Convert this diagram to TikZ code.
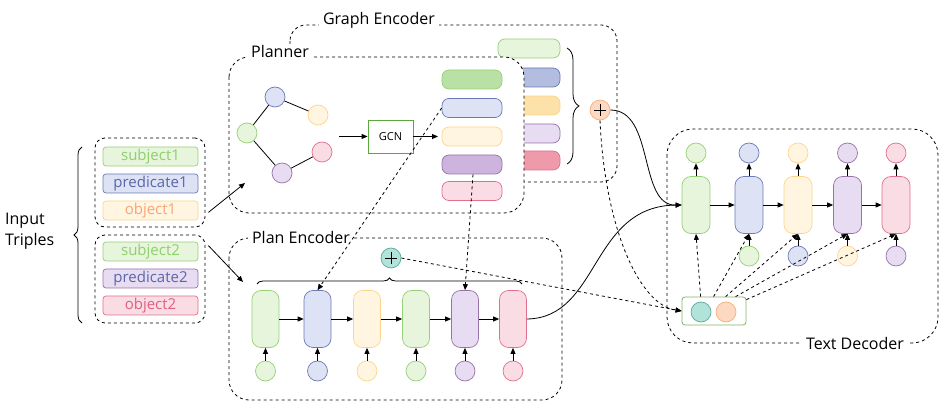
\documentclass[tikz,border=0pt]{standalone}
\usepackage{fontspec}
\setmainfont{Open Sans}
\usetikzlibrary{arrows.meta,decorations.pathreplacing,calc}
\definecolor{gF}{HTML}{E6F5DC}\definecolor{gD}{HTML}{97D077}\definecolor{gM}{HTML}{B9E0A5}
\definecolor{bF}{HTML}{DEE2F5}\definecolor{bD}{HTML}{6C7AB8}\definecolor{bM}{HTML}{B3BDE0}
\definecolor{yF}{HTML}{FFF5E0}\definecolor{yD}{HTML}{FDD58A}\definecolor{yM}{HTML}{FCE1A9}
\definecolor{pF}{HTML}{E8DCF2}\definecolor{pD}{HTML}{9673A6}\definecolor{pM}{HTML}{CDB4DE}
\definecolor{rF}{HTML}{FADDE4}\definecolor{rD}{HTML}{E0708D}\definecolor{rM}{HTML}{EE9AAB}
\definecolor{tF}{HTML}{B0E3DA}\definecolor{tD}{HTML}{5FA89B}
\definecolor{oF}{HTML}{FCD9C0}\definecolor{oD}{HTML}{F5AD7F}
\definecolor{gcnD}{HTML}{5AA83A}\definecolor{sbD}{HTML}{82B366}
\definecolor{gT}{HTML}{8FCF6E}\definecolor{bT}{HTML}{5A67A8}\definecolor{yT}{HTML}{F5A77A}\definecolor{rT}{HTML}{E0607F}
\begin{document}
\begin{tikzpicture}[x=1pt,y=-1pt,
  every node/.style={inner sep=0pt},
  arr/.style={-{Triangle[length=6pt,width=5pt]}, line width=0.8pt},
  dsh/.style={dash pattern=on 3pt off 3pt, line width=0.8pt},
  grp/.style={draw, dsh, rounded corners=10pt},
  inbox/.style={draw, line width=0.7pt, rounded corners=3pt, minimum width=95pt, minimum height=19pt, font=\fontsize{15}{17}\selectfont},
  bar/.style={draw, line width=0.7pt, rounded corners=7pt, minimum width=60pt, minimum height=19pt},
  cell/.style={draw, line width=0.7pt, rounded corners=9pt, minimum width=27pt, minimum height=57pt},
  dot/.style={draw, line width=0.7pt, circle, minimum size=20pt},
  ttl/.style={fill=white, inner xsep=4pt, inner ysep=2pt, font=\fontsize{16}{18}\selectfont},
  plus/.style={dot, path picture={\draw[black, line width=0.9pt] ($(path picture bounding box.center)+(-6,0)$) -- ++(12,0) ($(path picture bounding box.center)+(0,-6)$) -- ++(0,12);}},
  br/.style={decorate, decoration={brace, amplitude=#1}, line width=0.8pt}
]
\useasboundingbox (0,0) rectangle (947,419);

% ---------- input triples ----------
\node[font=\fontsize{16}{21}\selectfont, align=left, anchor=west] (it) at (5,231) {Input\\Triples};
\draw[br=8pt] (82,323) -- (82,147);
\node[grp, minimum width=110pt, minimum height=89pt] (g1) at (150,182.5) {};
\node[grp, minimum width=110pt, minimum height=88pt] (g2) at (150,279) {};
\node[inbox, draw=gD, fill=gF, text=gT] (s1) at (150.5,156.5) {subject1};
\node[inbox, draw=bD, fill=bF, text=bT] (p1) at (150.5,183.5) {predicate1};
\node[inbox, draw=yD, fill=yF, text=yT] (o1) at (150.5,210.5) {object1};
\node[inbox, draw=gD, fill=gF, text=gT] (s2) at (150.5,251.5) {subject2};
\node[inbox, draw=pD, fill=pF, text=bT] (p2) at (150.5,278.5) {predicate2};
\node[inbox, draw=rD, fill=rF, text=rT] (o2) at (150.5,305.5) {object2};

% ---------- graph encoder ----------
\draw[dsh, rounded corners=16pt] (290,25) rectangle (617,182);
\node[ttl] (get) at (379,20) {Graph Encoder};
\node[bar, draw=gD, fill=gF, minimum width=62pt] (e1) at (529,48.5) {};
\node[bar, draw=bD, fill=bM, minimum width=62pt] (e2) at (529,77.5) {};
\node[bar, draw=yD, fill=yM, minimum width=62pt] (e3) at (529,105.5) {};
\node[bar, draw=pD, fill=pF, minimum width=62pt] (e4) at (529,133.5) {};
\node[bar, draw=rD, fill=rM, minimum width=62pt] (e5) at (529,160.5) {};
\draw[br=12pt] (567,48) -- (567,164);
\node[plus, draw=oD, fill=oF] (op) at (600,110) {};

% ---------- planner ----------
\draw[dsh, fill=white, rounded corners=20pt] (229,57) rectangle (524,213);
\node[ttl] (plt) at (280,52) {Planner};
\node[dot, draw=gD, fill=gF] (n1) at (247,133) {};
\node[dot, draw=bD, fill=bF] (n2) at (275,97) {};
\node[dot, draw=yD, fill=yF] (n3) at (318,115) {};
\node[dot, draw=rD, fill=rF] (n4) at (322,152) {};
\node[dot, draw=pD, fill=pF] (n5) at (282,173) {};
\draw[line width=0.8pt] (n1) -- (n2) (n2) -- (n3) (n1) -- (n5) (n5) -- (n4);
\node[draw=gcnD, line width=0.8pt, minimum width=45pt, minimum height=33pt, font=\fontsize{11}{13}\selectfont] (gcn) at (390.5,136.5) {GCN};
\coordinate (gin) at (339,136.5);
\coordinate (gout) at (438,136.5);
\draw[arr] (gin) -- (gcn);
\draw[arr] (gcn) -- (gout);
\node[bar, draw=gD, fill=gM] (q1) at (472,79.5) {};
\node[bar, draw=bD, fill=bF] (q2) at (472,108) {};
\node[bar, draw=yD, fill=yF] (q3) at (472,136.5) {};
\node[bar, draw=pD, fill=pM] (q4) at (472,164.5) {};
\node[bar, draw=rD, fill=rF] (q5) at (472,191) {};

% ---------- plan encoder ----------
\draw[dsh, rounded corners=20pt] (229,238) rectangle (562,400);
\node[ttl] (pet) at (301,238) {Plan Encoder};
\node[plus, draw=tD, fill=tF] (tp) at (391,258) {};
\draw[br=6pt] (257,284) -- (522,284);
\foreach \i/\x/\f/\d in {1/265.5/gF/gD,2/317.5/bF/bD,3/367/yF/yD,4/416/gF/gD,5/465/pF/pD,6/513/rF/rD}{
  \node[cell, draw=\d, fill=\f] (c\i) at (\x,319) {};
  \node[dot, draw=\d, fill=\f] (ci\i) at (\x,371) {};
  \draw[arr] (ci\i) -- (c\i);
}
\foreach \i/\j in {1/2,2/3,3/4,4/5,5/6}{\draw[arr] (c\i) -- (c\j);}

% ---------- text decoder ----------
\draw[dsh, rounded corners=26pt] (667,129) rectangle (938,343);
\node[ttl] (tdt) at (855,343) {Text Decoder};
\foreach \i/\x/\f/\d in {1/696/gF/gD,2/749/bF/bD,3/798/yF/yD,4/847.5/pF/pD,5/896/rF/rD}{
  \node[cell, draw=\d, fill=\f, minimum width=28pt] (d\i) at (\x,205) {};
  \node[dot, draw=\d, fill=\f] (do\i) at (\x,153) {};
  \draw[arr] (d\i) -- (do\i);
}
\foreach \i/\x/\f/\d in {2/749/gF/gD,3/798/bF/bD,4/847.5/yF/yD,5/896/pF/pD}{
  \node[dot, draw=\d, fill=\f] (di\i) at (\x,256) {};
  \draw[arr] (di\i) -- (d\i);
}
\foreach \i/\j in {1/2,2/3,3/4,4/5}{\draw[arr] (d\i) -- (d\j);}
\node[draw=sbD, line width=0.8pt, rounded corners=3pt, minimum width=64pt, minimum height=28pt] (sb) at (714,311) {};
\node[dot, draw=tD, fill=tF] (st) at (701,312) {};
\node[dot, draw=oD, fill=oF] (so) at (726,312) {};

% ---------- connectors ----------
\draw[arr] ($(g1.south east)+(3,-15)$) -- (245,183);
\draw[arr] ($(g2.north east)+(3,11)$) -- (243,282);
\draw[arr, dsh] (q2.west) -- (c2.north);
\draw[arr, dsh] ($(q4.south)+(1,0)$) -- (c5.north);
\draw[arr, dsh] (tp.east) -- (sb.west);
\draw[arr, dsh] (op.south) .. controls (605,230) and (640,305) .. (sb.west);
\draw[arr] (op.east) .. controls (655,110) and (638,206) .. (d1.west);
\draw[arr] (c6.east) .. controls (600,318) and (590,206) .. (d1.west);
\draw[arr, dsh] ($(sb.north west)+(19,0)$) -- (d1.south);
\draw[arr, dsh] ($(sb.north west)+(32,0)$) -- (d2.south);
\draw[arr, dsh] ($(sb.north west)+(44,0)$) -- (d3.south);
\draw[arr, dsh] ($(sb.north west)+(54,0)$) -- (d4.south);
\draw[arr, dsh] ($(sb.north east)+(0,3)$) -- (d5.south);
\end{tikzpicture}
\end{document}
